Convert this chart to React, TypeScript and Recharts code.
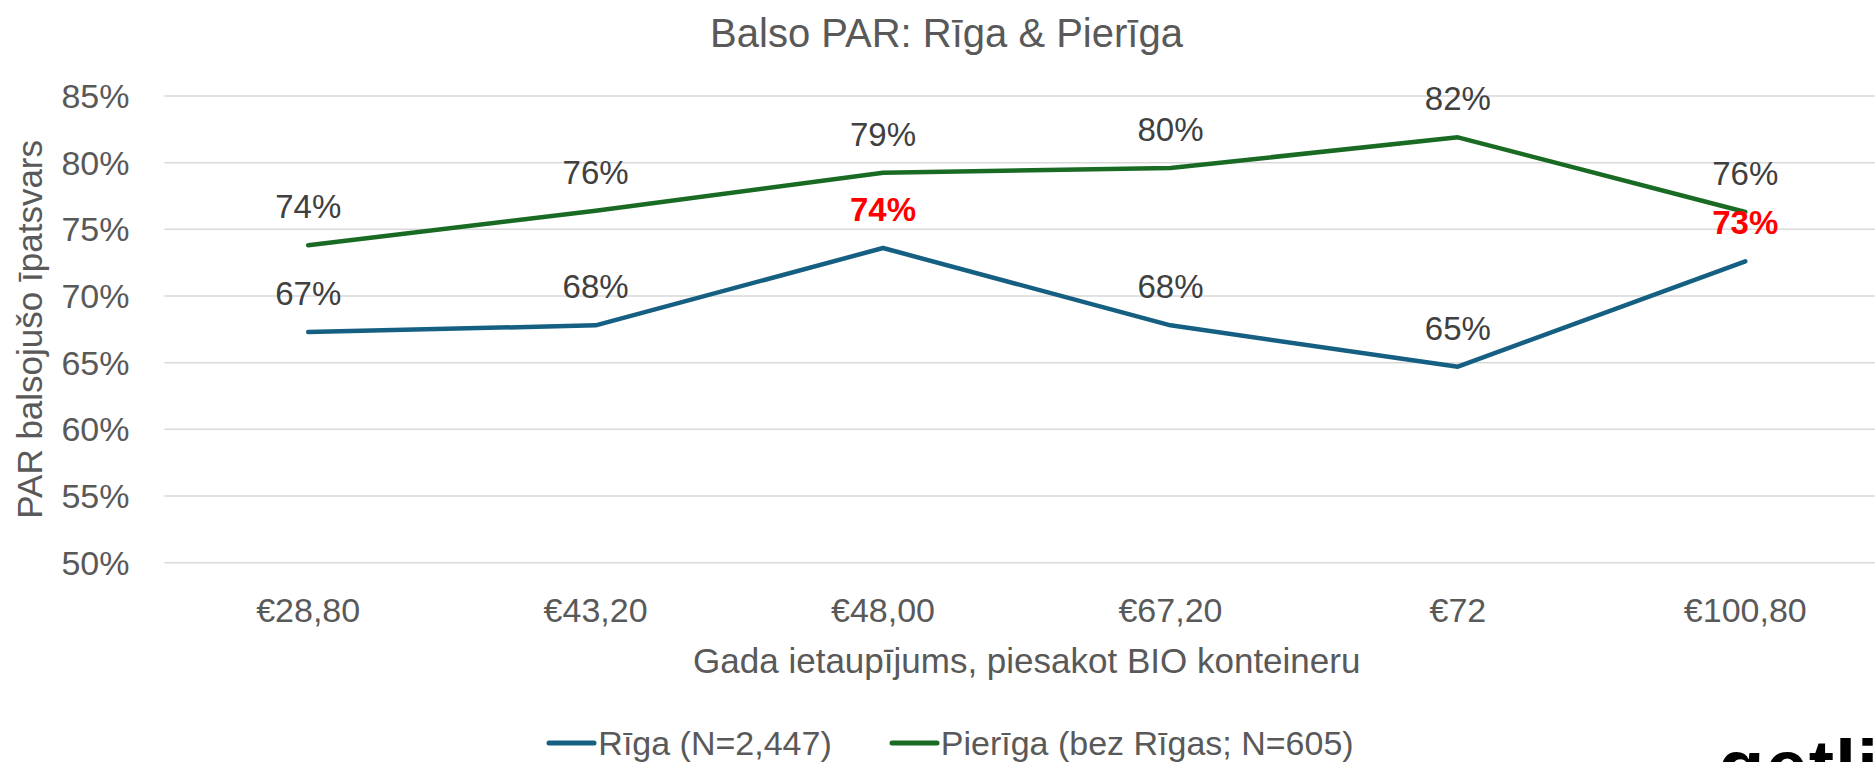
import React from "react";
import {
  LineChart,
  Line,
  XAxis,
  YAxis,
  CartesianGrid,
  Legend,
  LabelList,
} from "recharts";

const categories = ["€28,80", "€43,20", "€48,00", "€67,20", "€72", "€100,80"];
const rigaValues = [67.3, 67.8, 73.6, 67.8, 64.7, 72.6];
const pierigaValues = [73.8, 76.4, 79.25, 79.6, 81.9, 76.3];
const yTicks = [50, 55, 60, 65, 70, 75, 80, 85];
const seriesNames = ["Rīga (N=2,447)", "Pierīga (bez Rīgas; N=605)"];
// Rīgas punkti, kuru etiķetes izceltas sarkanā
const highlighted = [2, 5];

const FONT = '"Liberation Sans", Arial, sans-serif';
const GRAY = "#595959";

const data = categories.map((c, i) => ({
  cat: c,
  riga: rigaValues[i],
  pieriga: pierigaValues[i],
}));

function makeLabel(highlight: number[]) {
  return (props: any) => {
    const { x, y, value, index } = props;
    const hot = highlight.includes(index);
    return (
      <text
        x={x}
        y={y - 27}
        textAnchor="middle"
        fontFamily={FONT}
        fontSize={33}
        fontWeight={hot ? 700 : 400}
        fill={hot ? "#FF0000" : "#404040"}
      >
        {Math.round(value)}%
      </text>
    );
  };
}

function LegendContent(props: any) {
  const items = [...(props.payload || [])].sort(
    (a: any, b: any) => seriesNames.indexOf(a.value) - seriesNames.indexOf(b.value)
  );
  return (
    <div
      style={{
        display: "flex",
        justifyContent: "center",
        alignItems: "center",
        fontFamily: FONT,
        fontSize: 34,
        color: GRAY,
        lineHeight: "40px",
      }}
    >
      {items.map((it: any, i: number) => (
        <div
          key={i}
          style={{ display: "flex", alignItems: "center", marginRight: i === 0 ? 57 : 0 }}
        >
          <svg width={52} height={10}>
            <line x1={3} y1={5} x2={48} y2={5} stroke={it.color} strokeWidth={5} strokeLinecap="round" />
          </svg>
          <span>{it.value}</span>
        </div>
      ))}
    </div>
  );
}

export default function App() {
  return (
    <div
      style={{
        position: "absolute",
        left: 0,
        top: 0,
        width: 1875,
        height: 762,
        overflow: "hidden",
        background: "#fff",
      }}
    >
      <div
        style={{
          position: "absolute",
          left: 0,
          top: 8,
          width: 1893,
          textAlign: "center",
          fontFamily: FONT,
          fontSize: 40,
          color: GRAY,
          lineHeight: "50px",
        }}
      >
        Balso PAR: Rīga &amp; Pierīga
      </div>
      <LineChart
        width={1893}
        height={762}
        data={data}
        margin={{ top: 96, right: 4, bottom: 79.3, left: 0 }}
      >
        <CartesianGrid vertical={false} stroke="#D9D9D9" strokeWidth={1.5} />
        <XAxis
          dataKey="cat"
          height={120}
          padding={{ left: 143.7, right: 143.7 }}
          axisLine={false}
          tickLine={false}
          tickSize={0}
          tickMargin={35}
          tick={{ fill: GRAY, fontSize: 34, fontFamily: FONT }}
          label={{
            value: "Gada ietaupījums, piesakot BIO konteineru",
            position: "insideBottom",
            offset: 10,
            fill: GRAY,
            fontSize: 35,
            fontFamily: FONT,
          }}
        />
        <YAxis
          width={164.5}
          domain={[50, 85]}
          ticks={yTicks}
          axisLine={false}
          tickLine={false}
          tickSize={0}
          tickMargin={35}
          tickFormatter={(v: number) => `${v}%`}
          tick={{ fill: GRAY, fontSize: 34, fontFamily: FONT }}
          label={{
            value: "PAR balsojušo īpatsvars",
            angle: -90,
            position: "insideLeft",
            offset: 30,
            fill: GRAY,
            fontSize: 35,
            fontFamily: FONT,
            style: { textAnchor: "middle" },
          }}
        />
        <Legend
          layout="horizontal"
          verticalAlign="middle"
          align="center"
          content={<LegendContent />}
          wrapperStyle={{ top: 723, left: 0, width: 1900 }}
        />
        <Line
          type="linear"
          dataKey="riga"
          name={seriesNames[0]}
          stroke="#156082"
          strokeWidth={4.5}
          strokeLinecap="round"
          strokeLinejoin="round"
          dot={false}
          activeDot={false}
          isAnimationActive={false}
        >
          <LabelList dataKey="riga" content={makeLabel(highlighted)} />
        </Line>
        <Line
          type="linear"
          dataKey="pieriga"
          name={seriesNames[1]}
          stroke="#196B24"
          strokeWidth={4.5}
          strokeLinecap="round"
          strokeLinejoin="round"
          dot={false}
          activeDot={false}
          isAnimationActive={false}
        >
          <LabelList dataKey="pieriga" content={makeLabel([])} />
        </Line>
      </LineChart>
      <div
        style={{
          position: "absolute",
          left: 1718,
          top: 729,
          fontFamily: FONT,
          fontSize: 76,
          fontWeight: 700,
          color: "#000",
          lineHeight: "76px",
          letterSpacing: 1,
        }}
      >
        getlin
      </div>
    </div>
  );
}
